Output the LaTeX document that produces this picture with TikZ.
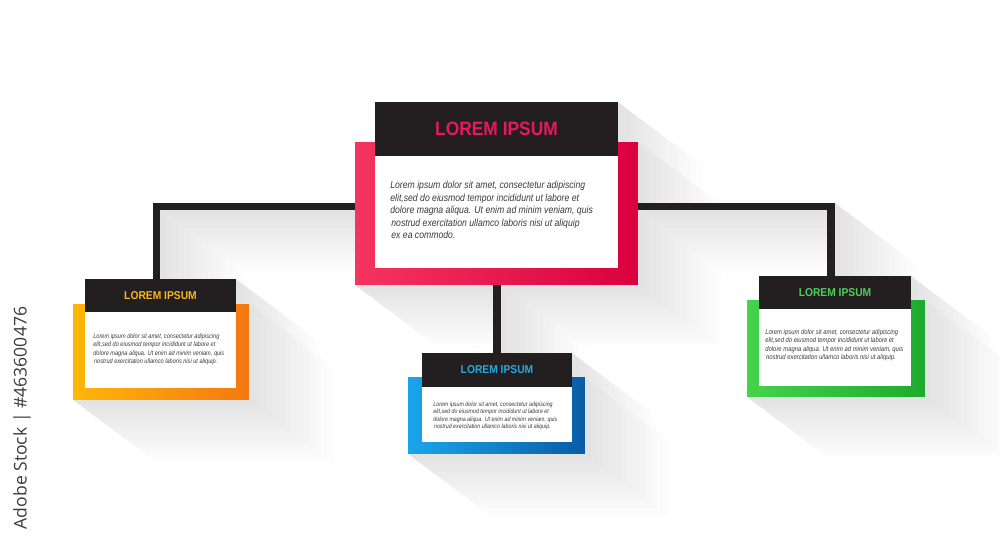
\documentclass[tikz,border=0pt]{standalone}
\usepackage{fontspec}
\setmainfont{Liberation Sans}
\newfontfamily\ttlfont[FakeStretch=0.9]{Liberation Sans}
\newfontfamily\bdyfont[FakeStretch=0.85]{Liberation Sans}
\newfontfamily\wmfont{Open Sans}
\definecolor{hdr}{HTML}{231F20}
\definecolor{bodytxt}{HTML}{3A3A3A}
\definecolor{wmgray}{HTML}{3C3C3C}
\definecolor{redL}{HTML}{F5345F}
\definecolor{redR}{HTML}{DA0040}
\definecolor{redT}{HTML}{E5195E}
\definecolor{orgL}{HTML}{FFB60A}
\definecolor{orgR}{HTML}{F47810}
\definecolor{orgT}{HTML}{F9B51E}
\definecolor{bluL}{HTML}{1AA5EA}
\definecolor{bluR}{HTML}{0B5CA6}
\definecolor{bluT}{HTML}{27A9E1}
\definecolor{grnL}{HTML}{45D24C}
\definecolor{grnR}{HTML}{1EAA2F}
\definecolor{grnT}{HTML}{4CD05A}
\newcommand\shrect[5]{(#1,#2) -- (#3,#2) -- ({#3+#5},{#2+0.75*#5}) -- ({#3+#5},{#4+0.75*#5}) -- ({#1+#5},{#4+0.75*#5}) -- (#1,#4) -- cycle}
\tikzset{
  frame/.style={inner sep=0, draw=none},
  head/.style={fill=hdr, inner sep=0, draw=none},
  paper/.style={fill=white, inner sep=0, draw=none},
  conn/.style={draw=hdr, line width=4pt, line join=miter, line cap=butt},
  body/.style={inner sep=0, align=left, text=bodytxt, anchor=north west},
  bigttl/.style={font=\ttlfont\bfseries\fontsize{11}{13}\selectfont},
  smallttl/.style={font=\ttlfont\bfseries\fontsize{6.5}{8}\selectfont}
}
\begin{document}
\begin{tikzpicture}[x=0.02cm,y=-0.02cm]
\useasboundingbox (0,0) rectangle (1000,547);
\fill[white] (0,0) rectangle (1000,547);
% long shadows
\foreach \d in {6,12,...,84} {
  \fill[black,opacity=0.008]
    \shrect{375}{102}{618}{156}{\d} \shrect{355}{142}{638}{285}{\d}
    \shrect{85}{279}{236}{312}{\d} \shrect{73}{304}{249}{400}{\d}
    \shrect{422}{353}{572}{387}{\d} \shrect{408}{377}{585}{454}{\d}
    \shrect{759}{276}{911}{309}{\d} \shrect{747}{300}{925}{397}{\d}
    \shrect{153}{203}{355}{210}{\d} \shrect{153}{203}{160}{279}{\d}
    \shrect{638}{203}{835}{210}{\d} \shrect{827}{203}{835}{276}{\d}
    \shrect{493}{285}{501}{353}{\d};
}
% frames
\node[frame, left color=redL, right color=redR, minimum width=5.66cm, minimum height=2.86cm] (cframe) at (496.5,213.5) {};
\node[frame, left color=orgL, right color=orgR, minimum width=3.52cm, minimum height=1.92cm] (lframe) at (161,352) {};
\node[frame, left color=bluL, right color=bluR, minimum width=3.54cm, minimum height=1.54cm] (mframe) at (496.5,415.5) {};
\node[frame, left color=grnL, right color=grnR, minimum width=3.56cm, minimum height=1.94cm] (rframe) at (836,348.5) {};
% papers
\node[paper, minimum width=4.86cm, minimum height=2.24cm] (cpaper) at (496.5,212) {};
\node[paper, minimum width=3.02cm, minimum height=1.52cm] (lpaper) at (160.5,350) {};
\node[paper, minimum width=3.00cm, minimum height=1.10cm] (mpaper) at (497,414.5) {};
\node[paper, minimum width=3.04cm, minimum height=1.54cm] (rpaper) at (835,347.5) {};
% headers
\node[head, bigttl, text=redT, minimum width=4.86cm, minimum height=1.08cm] (chead) at (496.5,129) {LOREM IPSUM};
\node[head, smallttl, text=orgT, minimum width=3.02cm, minimum height=0.66cm] (lhead) at (160.5,295.5) {LOREM IPSUM};
\node[head, smallttl, text=bluT, minimum width=3.00cm, minimum height=0.68cm] (mhead) at (497,370) {LOREM IPSUM};
\node[head, smallttl, text=grnT, minimum width=3.04cm, minimum height=0.66cm] (rhead) at (835,292.5) {LOREM IPSUM};
% connectors
\coordinate (jl) at (156.5,206.5);
\coordinate (jr) at (831,206.5);
\draw[conn] (cframe.west |- jl) -- (jl) -- (jl |- lhead.north);
\draw[conn] (cframe.east |- jr) -- (jr) -- (jr |- rhead.north);
\draw[conn] (mhead.north |- cframe.south) -- (mhead.north);
% body texts
\node[body, font=\bdyfont\itshape\fontsize{5.8}{7.1}\selectfont] (ctext) at (390,181) {Lorem ipsum dolor sit amet, consectetur adipiscing\\elit,sed do eiusmod tempor incididunt ut labore et\\dolore magna aliqua. Ut enim ad minim veniam, quis\\\hspace{0.6pt}nostrud exercitation ullamco laboris nisi ut aliquip\\\hspace{0.6pt}ex ea commodo.};
\node[body, font=\bdyfont\itshape\fontsize{3.75}{4.7}\selectfont] (ltext) at (93,333.5) {Lorem ipsum dolor sit amet, consectetur adipiscing\\elit,sed do eiusmod tempor incididunt ut labore et\\dolore magna aliqua. Ut enim ad minim veniam, quis\\\hspace{0.4pt}nostrud exercitation ullamco laboris nisi ut aliquip.};
\node[body, font=\bdyfont\itshape\fontsize{3.55}{4.25}\selectfont] (mtext) at (433,401.5) {Lorem ipsum dolor sit amet, consectetur adipiscing\\elit,sed do eiusmod tempor incididunt ut labore et\\dolore magna aliqua. Ut enim ad minim veniam, quis\\\hspace{0.4pt}nostrud exercitation ullamco laboris nisi ut aliquip.};
\node[body, font=\bdyfont\itshape\fontsize{3.95}{4.75}\selectfont] (rtext) at (765,329) {Lorem ipsum dolor sit amet, consectetur adipiscing\\elit,sed do eiusmod tempor incididunt ut labore et\\dolore magna aliqua. Ut enim ad minim veniam, quis\\\hspace{0.4pt}nostrud exercitation ullamco laboris nisi ut aliquip.};
% stock label
\node[rotate=90, inner sep=0, font=\wmfont\fontsize{10}{12}\selectfont, text=wmgray] (stock) at (22,418) {Adobe Stock | \#463600476};
\end{tikzpicture}
\end{document}
